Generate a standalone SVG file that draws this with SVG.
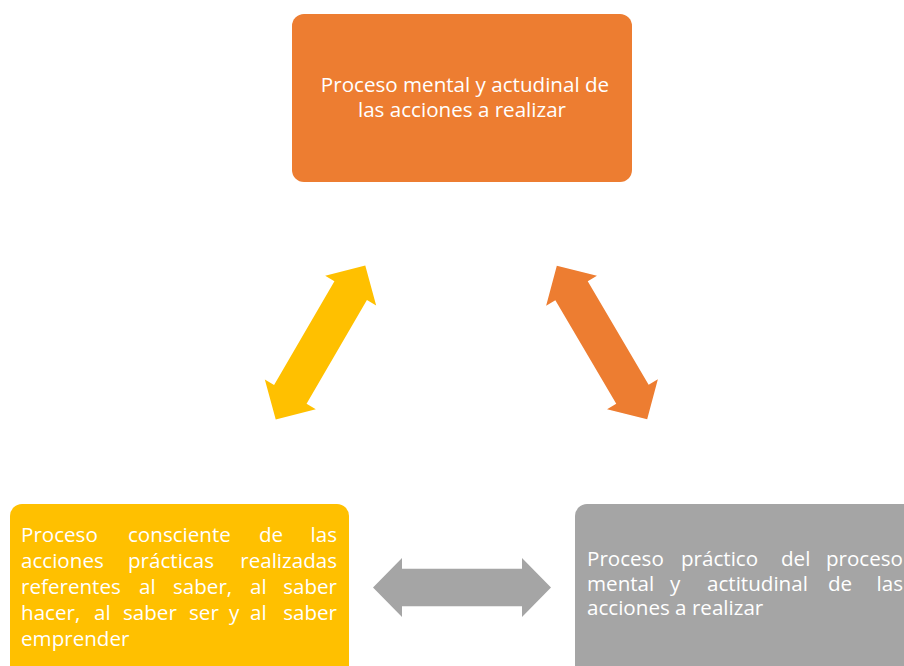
<svg xmlns="http://www.w3.org/2000/svg" xmlns:xlink="http://www.w3.org/1999/xlink" width="904" height="666" viewBox="0 0 904 666">
<style>
  .t { font-family: "Open Sans", "Noto Sans", "Liberation Sans", sans-serif; font-size: 20.6px; fill: #ffffff; }
  .mid { text-anchor: middle; }
  .end { text-anchor: end; }
</style>
<defs>
  <path id="dbl" d="M-89,0 L-60,-29.5 L-60,-18.8 L60,-18.8 L60,-29.5 L89,0 L60,29.5 L60,18.8 L-60,18.8 L-60,29.5 Z"/>
</defs>
<rect width="904" height="666" fill="#ffffff"/>
<g id="connectors">
  <use xlink:href="#dbl" href="#dbl" fill="#FFC000" transform="translate(320.5,342.5) rotate(-59.8)"/>
  <use xlink:href="#dbl" href="#dbl" fill="#ED7D31" transform="translate(602,342.5) rotate(59.5)"/>
  <use xlink:href="#dbl" href="#dbl" fill="#A5A5A5" transform="translate(462,587.5)"/>
</g>
<g id="node-top">
  <rect x="292" y="14" width="340" height="168" rx="12" fill="#ED7D31"/>
  <text class="t mid" x="465" y="92">Proceso mental y actudinal de</text>
  <text class="t mid" x="462" y="117">las acciones a realizar</text>
</g>
<g id="node-left">
  <rect x="10" y="504" width="339" height="180" rx="12" fill="#FFC000"/>
  <text class="t" y="542"><tspan x="21">Proceso</tspan><tspan x="128">consciente</tspan><tspan x="259">de</tspan><tspan x="337" class="end">las</tspan></text>
  <text class="t" y="568"><tspan x="21">acciones</tspan><tspan x="128">prácticas</tspan><tspan x="337" class="end">realizadas</tspan></text>
  <text class="t" y="594"><tspan x="21">referentes</tspan><tspan x="139">al</tspan><tspan x="173">saber,</tspan><tspan x="250">al</tspan><tspan x="337" class="end">saber</tspan></text>
  <text class="t" y="620"><tspan x="21">hacer,</tspan><tspan x="94">al</tspan><tspan x="123">saber</tspan><tspan x="189">ser</tspan><tspan x="229">y</tspan><tspan x="250">al</tspan><tspan x="337" class="end">saber</tspan></text>
  <text class="t" x="21" y="646">emprender</text>
</g>
<g id="node-right">
  <rect x="575" y="504" width="345" height="180" rx="12" fill="#A5A5A5"/>
  <text class="t" y="566"><tspan x="587">Proceso</tspan><tspan x="681">práctico</tspan><tspan x="781">del</tspan><tspan x="903" class="end">proceso</tspan></text>
  <text class="t" y="591"><tspan x="587">mental</tspan><tspan x="670">y</tspan><tspan x="707">actitudinal</tspan><tspan x="828">de</tspan><tspan x="903" class="end">las</tspan></text>
  <text class="t" x="587" y="615">acciones a realizar</text>
</g>
</svg>
